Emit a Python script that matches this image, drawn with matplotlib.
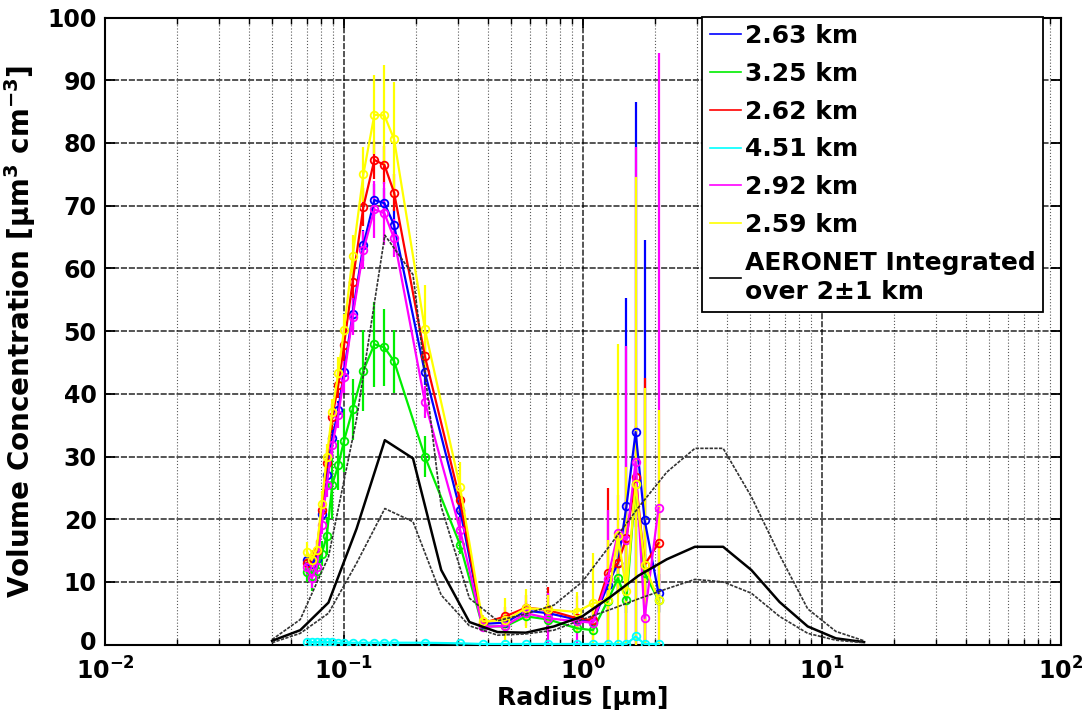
import matplotlib
matplotlib.use("Agg")
import matplotlib.pyplot as plt
from matplotlib.lines import Line2D
from matplotlib.ticker import LogLocator, FixedLocator, NullFormatter
from matplotlib.transforms import ScaledTranslation

plt.rcParams['font.family'] = ['DejaVu Sans']
plt.rcParams['font.weight'] = 'bold'
plt.rcParams['mathtext.fontset'] = 'dejavusans'
plt.rcParams['mathtext.default'] = 'bf'

# ---------------- data ----------------
radius = [0.070, 0.0733, 0.0768, 0.0807, 0.0847, 0.0893, 0.0946, 0.100, 0.1087,
          0.1205, 0.134, 0.1476, 0.162, 0.218, 0.306, 0.38, 0.473, 0.578, 0.717,
          0.942, 1.10, 1.27, 1.40, 1.52, 1.66, 1.81, 2.07]

labels = ['2.63 km', '3.25 km', '2.62 km', '4.51 km', '2.92 km', '2.59 km']
colors = ['#0000ff', '#00ee00', '#ff0000', '#00ffff', '#ff00ff', '#ffff00']

v_263 = [13.5, 12.8, 13.7, 20.9, 27.0, 32.9, 37.4, 43.5, 52.8, 63.7, 70.9, 70.4, 66.9,
         43.4, 21.5, 3.3, 3.5, 5.4, 5.0, 4.0, 3.6, 9.5, 13.0, 22.1, 33.9, 19.9, 8.2]
e_263 = [1.0, 1.0, 1.0, 1.2, 1.5, 1.5, 1.5, 1.8, 2.5, 2.5, 2.5, 2.5, 2.5,
         2.0, 1.5, 0.8, 0.8, 0.8, 0.8, 0.8, 0.8, 2.0, 5.0, 33.1, 52.7, 44.6, 3.0]

v_325 = [11.5, 11.0, 11.8, 14.5, 17.3, 25.5, 28.6, 32.5, 37.5, 43.7, 47.9, 47.4, 45.2,
         30.0, 15.9, 2.9, 2.9, 4.5, 4.0, 2.6, 2.3, 7.0, 10.6, 7.1, 25.6, 11.4, 7.1]
e_325 = [1.5, 2.4, 1.5, 2.0, 3.0, 5.5, 4.0, 5.0, 4.8, 6.4, 6.8, 6.1, 5.0,
         3.2, 1.5, 0.5, 0.5, 0.6, 0.6, 0.5, 0.7, 1.5, 2.0, 2.0, 3.0, 3.0, 2.0]

v_262 = [13.0, 13.5, 15.0, 21.5, 29.0, 36.3, 41.4, 47.8, 57.9, 69.8, 77.3, 76.5, 72.1,
         46.0, 23.0, 3.4, 4.5, 5.9, 5.5, 4.2, 3.9, 11.4, 13.0, 17.0, 26.8, 12.7, 16.2]
e_262 = [1.5, 1.5, 1.5, 1.5, 2.0, 2.0, 2.0, 2.5, 3.0, 3.0, 3.0, 3.0, 3.0,
         2.5, 2.0, 0.8, 1.5, 2.0, 3.7, 1.5, 1.5, 13.5, 5.0, 6.0, 8.0, 29.8, 6.0]

v_451 = [0.4, 0.4, 0.4, 0.4, 0.4, 0.4, 0.3, 0.3, 0.3, 0.3, 0.3, 0.3, 0.3,
         0.3, 0.2, 0.1, 0.1, 0.1, 0.1, 0.1, 0.1, 0.1, 0.1, 0.1, 1.3, 0.1, 0.1]
e_451 = [0.1] * 27

v_292 = [12.3, 10.6, 12.3, 19.1, 25.5, 31.8, 36.6, 42.7, 52.3, 62.9, 69.4, 68.8, 64.8,
         38.7, 18.3, 2.8, 3.0, 5.0, 4.2, 3.7, 3.5, 10.5, 17.8, 16.7, 29.2, 4.2, 21.8]
e_292 = [1.5, 1.5, 1.5, 1.5, 2.0, 2.0, 2.0, 2.5, 3.0, 3.0, 4.5, 5.0, 3.0,
         2.5, 2.0, 0.8, 1.0, 2.0, 4.0, 4.0, 3.5, 11.0, 6.0, 31.0, 50.2, 8.0, 72.5]

v_259 = [14.8, 13.5, 15.1, 22.5, 30.0, 37.1, 43.3, 50.2, 61.9, 75.0, 84.5, 84.4, 80.6,
         50.3, 25.1, 3.7, 3.9, 5.8, 5.6, 5.2, 6.6, 7.1, 17.3, 8.6, 25.6, 12.7, 7.1]
e_259 = [1.6, 1.6, 1.6, 2.0, 2.0, 2.0, 2.5, 2.5, 3.4, 4.4, 6.3, 8.0, 9.2,
         7.0, 4.0, 1.0, 3.5, 3.1, 2.3, 3.2, 8.0, 9.6, 30.7, 19.8, 49.0, 28.2, 30.3]

series_values = [v_263, v_325, v_262, v_451, v_292, v_259]
series_errors = [e_263, e_325, e_262, e_451, e_292, e_259]

aeronet_radius = [0.05, 0.0656, 0.0861, 0.1129, 0.1482, 0.1944, 0.2551, 0.3347,
                  0.4392, 0.5762, 0.7561, 0.9920, 1.3016, 1.7078, 2.2407, 2.9400,
                  3.8575, 5.0613, 6.6407, 8.7131, 11.4323, 15.0]
aeronet_mid = [0.6, 2.3, 6.7, 18.5, 32.6, 29.7, 11.9, 3.6, 2.0, 1.9, 2.9, 4.5,
               7.6, 11.0, 13.6, 15.6, 15.6, 11.9, 6.8, 2.9, 1.0, 0.4]
aeronet_upper = [0.8, 4.0, 14.0, 36.0, 65.3, 59.0, 22.0, 7.4, 3.8, 4.9, 6.3, 10.0,
                 15.9, 21.9, 27.5, 31.3, 31.3, 23.6, 14.3, 5.7, 2.1, 0.6]
aeronet_lower = [0.3, 1.8, 5.0, 13.0, 21.7, 19.6, 7.9, 3.0, 1.5, 1.7, 2.3, 4.0,
                 5.6, 7.3, 8.9, 10.4, 10.0, 8.2, 4.5, 1.8, 0.7, 0.3]
aeronet_label = 'AERONET Integrated\nover 2\u00b11 km'

yticks = [0, 10, 20, 30, 40, 50, 60, 70, 80, 90, 100]
xticks = [1e-2, 1e-1, 1e0, 1e1, 1e2]
xticklabels = [r'$10^{-2}$', r'$10^{-1}$', r'$10^{0}$', r'$10^{1}$', r'$10^{2}$']

# ---------------- figure ----------------
W, H = 1084, 722
fig = plt.figure(figsize=(W / 100, H / 100), dpi=100)
ax = fig.add_axes([105 / W, 77.4 / H, (1061 - 105) / W, (644.6 - 17.6) / H])

ax.set_xscale('log')
ax.set_xlim(1e-2, 1e2)
ax.set_ylim(0, 100)

# grid
ax.set_axisbelow(True)
ax.grid(True, which='major', color='black', linestyle=(0, (4, 1.2)), linewidth=1.1, alpha=0.85)
ax.grid(True, which='minor', axis='x', color='0.35', linestyle=(0, (1, 1.8)), linewidth=0.8)

for vals, errs, c in zip(series_values, series_errors, colors):
    ax.errorbar(radius, vals, yerr=errs, color=c, marker='o', mfc='none', mec=c,
                ms=5.5, mew=1.3, lw=1.6, elinewidth=1.6, capsize=0, zorder=3)

ax.plot(aeronet_radius, aeronet_upper, color='0.2', lw=1.2, ls=(0, (2, 0.8)), zorder=4)
ax.plot(aeronet_radius, aeronet_mid, color='black', lw=1.8, zorder=4)
ax.plot(aeronet_radius, aeronet_lower, color='0.2', lw=1.2, ls=(0, (2, 0.8)), zorder=4)

# ticks
ax.set_yticks(yticks)
ax.set_yticklabels([str(t) for t in yticks])
ax.xaxis.set_major_locator(FixedLocator(xticks))
ax.set_xticklabels(xticklabels)
ax.xaxis.set_minor_locator(LogLocator(base=10, subs=range(2, 10), numticks=20))
ax.xaxis.set_minor_formatter(NullFormatter())
ax.tick_params(which='major', direction='in', length=7, width=1.3, top=True, right=True,
               labelsize=17)
ax.tick_params(axis='y', which='major', pad=6)
ax.tick_params(axis='x', which='major', pad=9)
ax.tick_params(which='minor', direction='in', length=4, width=1.0, top=True, right=True)
for lab in ax.get_yticklabels() + ax.get_xticklabels():
    lab.set_fontweight('bold')
# lift the bottom "0" a little, as in the reference, so it clears the 10^-2 label
ylabs = ax.get_yticklabels()
ylabs[0].set_transform(ylabs[0].get_transform() + ScaledTranslation(0, 3 / 72, fig.dpi_scale_trans))
for s in ax.spines.values():
    s.set_linewidth(1.5)

ax.set_xlabel('Radius [\u00b5m]', fontsize=18, fontweight='bold', labelpad=1)
ax.set_ylabel('Volume Concentration [\u00b5m$^{3}$ cm$^{-3}$]', fontsize=20,
              fontweight='bold', labelpad=7)

# legend
handles = [Line2D([0], [0], color=c, lw=1.2) for c in colors]
handles.append(Line2D([0], [0], color='black', lw=1.2))
leg = ax.legend(handles, labels + [aeronet_label], loc='upper right',
                bbox_to_anchor=(1043 / W, 1 - 16.7 / H), bbox_transform=fig.transFigure,
                borderaxespad=0, prop={'weight': 'bold', 'size': 18},
                handlelength=1.26, handletextpad=0.14, borderpad=0.3,
                labelspacing=0.55, fancybox=False, framealpha=1, edgecolor='black')
for t in leg.get_texts():
    t.set_linespacing(1.3)
leg.get_frame().set_linewidth(1.3)
leg.set_zorder(10)

fig.savefig('out.png', dpi=100)
